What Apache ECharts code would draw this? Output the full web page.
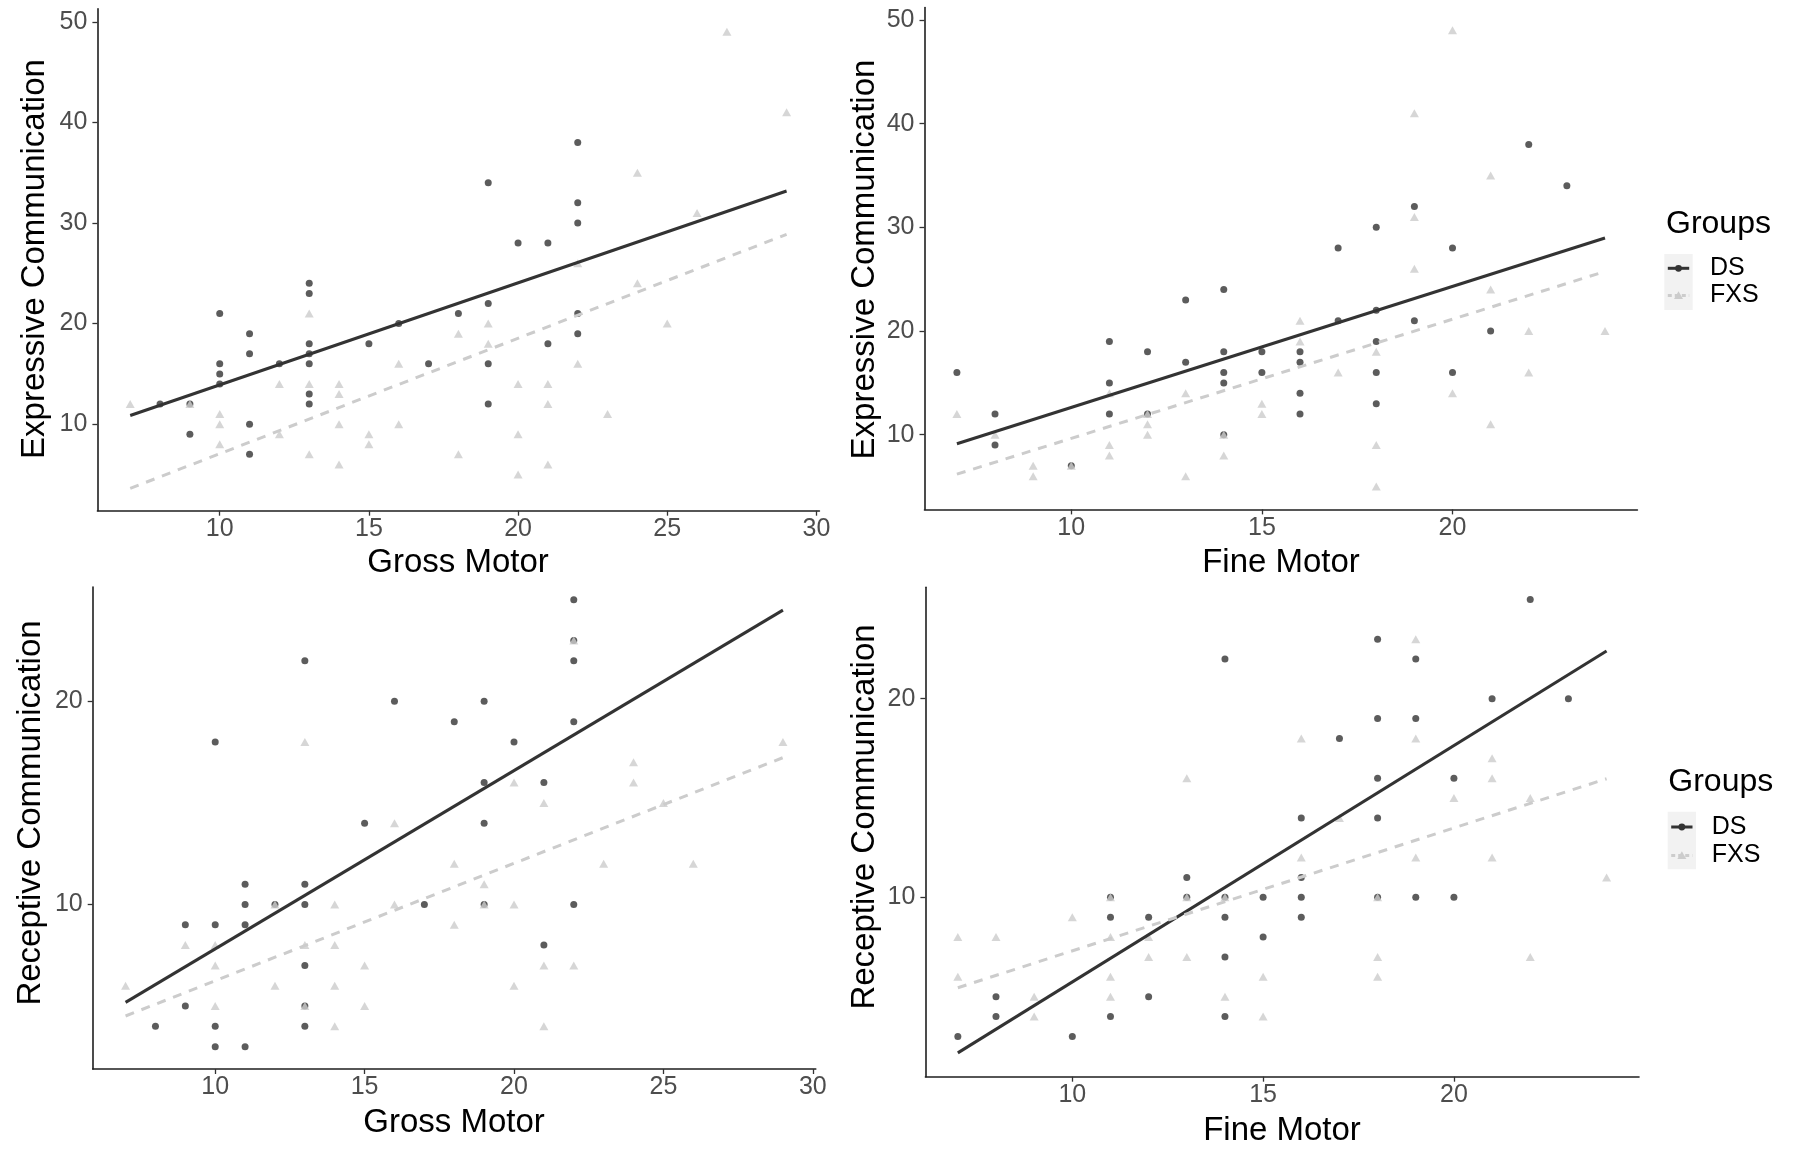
<!DOCTYPE html>
<html>
<head>
<meta charset="utf-8">
<script src="https://cdn.jsdelivr.net/npm/echarts@6/dist/echarts.min.js"></script>
<style>
html,body{margin:0;padding:0;background:#fff;}
#chart{width:1796px;height:1160px;}
</style>
</head>
<body>
<div id="chart"></div>
<script>
// ---------- DATA ----------
const groups = ['DS', 'FXS'];
const xTicksGross = [10, 15, 20, 25, 30];
const xTicksFine = [10, 15, 20];
const yTicksExpressive = [10, 20, 30, 40, 50];
const yTicksReceptive = [10, 20];

const xTitleGross = 'Gross Motor';
const xTitleFine = 'Fine Motor';
const yTitleExpressive = 'Expressive Communication';
const yTitleReceptive = 'Receptive Communication';
const legendTitle = 'Groups';

// Panel 1: Gross Motor vs Expressive Communication
const exprGrossDS = [[22,38],[19,34],[22,32],[22,30],[20,28],[21,28],[13,24],[13,23],[10,21],[19,22],[18,21],[22,21],[16,20],[11,19],[22,19],[13,18],[15,18],[21,18],[11,17],[13,17],[12,16],[10,16],[13,16],[17,16],[19,16],[10,15],[10,14],[13,13],[13,12],[19,12],[8,12],[9,12],[11,10],[9,9],[11,7]];
const exprGrossFXS = [[27,49],[29,41],[24,35],[26,31],[22,26],[24,24],[13,21],[19,20],[25,20],[18,19],[19,18],[16,16],[22,16],[12,14],[13,14],[14,14],[20,14],[21,14],[14,13],[7,12],[9,12],[21,12],[23,11],[10,11],[10,10],[14,10],[16,10],[12,9],[15,9],[20,9],[10,8],[15,8],[13,7],[18,7],[14,6],[21,6],[20,5]];
const exprGrossFitDS = [[7,10.86],[29,33.18]];
const exprGrossFitFXS = [[7,3.62],[29,28.87]];

// Panel 2: Fine Motor vs Expressive Communication
const exprFineDS = [[22,38],[23,34],[19,32],[18,30],[17,28],[20,28],[14,24],[13,23],[17,21],[18,22],[19,21],[21,20],[11,19],[18,19],[12,18],[14,18],[15,18],[16,18],[13,17],[16,17],[7,16],[14,16],[15,16],[18,16],[20,16],[11,15],[14,15],[16,14],[18,13],[8,12],[11,12],[12,12],[16,12],[14,10],[8,9],[10,7]];
const exprFineFXS = [[20,49],[19,41],[21,35],[19,31],[19,26],[21,24],[16,21],[16,19],[18,18],[22,20],[24,20],[22,16],[17,16],[13,14],[20,14],[11,14],[15,13],[15,12],[7,12],[12,12],[12,11],[21,11],[8,10],[12,10],[14,10],[11,9],[18,9],[11,8],[14,8],[9,7],[10,7],[9,6],[13,6],[18,5]];
const exprFineFitDS = [[7,9.13],[24,28.97]];
const exprFineFitFXS = [[7,6.2],[24,25.74]];

// Panel 3: Gross Motor vs Receptive Communication
const recGrossDS = [[22,25],[22,23],[13,22],[22,22],[16,20],[19,20],[18,19],[22,19],[10,18],[20,18],[19,16],[21,16],[15,14],[19,14],[11,11],[13,11],[11,10],[12,10],[13,10],[17,10],[19,10],[22,10],[9,9],[10,9],[11,9],[21,8],[13,7],[9,5],[13,5],[8,4],[10,4],[13,4],[10,3],[11,3]];
const recGrossFXS = [[22,23],[13,18],[29,18],[24,17],[24,16],[20,16],[21,15],[25,15],[16,14],[18,12],[23,12],[26,12],[19,11],[12,10],[14,10],[16,10],[19,10],[20,10],[18,9],[9,8],[10,8],[13,8],[14,8],[10,7],[15,7],[21,7],[22,7],[7,6],[12,6],[14,6],[20,6],[10,5],[13,5],[15,5],[14,4],[21,4]];
const recGrossFitDS = [[7,5.18],[29,24.49]];
const recGrossFitFXS = [[7,4.51],[29,17.23]];

// Panel 4: Fine Motor vs Receptive Communication
const recFineDS = [[22,25],[18,23],[14,22],[19,22],[21,20],[23,20],[18,19],[19,19],[17,18],[18,16],[20,16],[16,14],[18,14],[13,11],[16,11],[11,10],[13,10],[14,10],[15,10],[16,10],[18,10],[19,10],[20,10],[11,9],[12,9],[14,9],[16,9],[15,8],[14,7],[8,5],[12,5],[8,4],[11,4],[14,4],[7,3],[10,3]];
const recFineFXS = [[19,23],[16,18],[19,18],[21,17],[21,16],[13,16],[20,15],[22,15],[17,14],[16,12],[19,12],[21,12],[24,11],[11,10],[13,10],[14,10],[18,10],[10,9],[7,8],[8,8],[11,8],[12,8],[12,7],[13,7],[18,7],[22,7],[7,6],[11,6],[15,6],[18,6],[9,5],[11,5],[14,5],[9,4],[15,4]];
const recFineFitDS = [[7,2.17],[24,22.4]];
const recFineFitFXS = [[7,5.45],[24,15.97]];

// ---------- STYLE / LAYOUT ----------
const FONT = '"Liberation Sans", Arial, Helvetica, sans-serif';
const COL_DS = '#333333';
const COL_FXS = '#cccccc';
const TICK_FS = 25;
const TITLE_FS = 33;

const panels = [
  { grid:{left:97.4, top:8.7, width:722, height:502}, xr:[5.9,30.1], yr:[1.4,51.3], xt:xTicksGross, yt:yTicksExpressive,
    ds:exprGrossDS, fxs:exprGrossFXS, fitDS:exprGrossFitDS, fitFXS:exprGrossFitFXS },
  { grid:{left:924.5, top:7.5, width:712.9, height:501.9}, xr:[6.15,24.85], yr:[2.8,51.2], xt:xTicksFine, yt:yTicksExpressive,
    ds:exprFineDS, fxs:exprFineFXS, fitDS:exprFineFitDS, fitFXS:exprFineFitFXS },
  { grid:{left:92.7, top:587, width:723.1, height:482}, xr:[5.9,30.1], yr:[1.9,25.63], xt:xTicksGross, yt:yTicksReceptive,
    ds:recGrossDS, fxs:recGrossFXS, fitDS:recGrossFitDS, fitFXS:recGrossFitFXS },
  { grid:{left:925.4, top:587.3, width:713.6, height:489.4}, xr:[6.15,24.85], yr:[0.97,25.61], xt:xTicksFine, yt:yTicksReceptive,
    ds:recFineDS, fxs:recFineFXS, fitDS:recFineFitDS, fitFXS:recFineFitFXS }
];

const grids = [], xAxes = [], yAxes = [], series = [];
panels.forEach((p, i) => {
  grids.push(Object.assign({containLabel:false, outerBoundsMode:'none'}, p.grid));
  const axisCommon = {
    type:'value', gridIndex:i,
    axisLine:{show:true, onZero:false, lineStyle:{color:'#1f1f1f', width:1.6}},
    splitLine:{show:false},
  };
  xAxes.push(Object.assign({}, axisCommon, {
    min:p.xr[0], max:p.xr[1],
    axisTick:{show:true, inside:false, length:5, customValues:p.xt, lineStyle:{color:'#333333', width:1.3}},
    axisLabel:{show:true, customValues:p.xt, margin:6, fontSize:TICK_FS, color:'#4d4d4d', fontFamily:FONT}
  }));
  yAxes.push(Object.assign({}, axisCommon, {
    min:p.yr[0], max:p.yr[1],
    axisTick:{show:true, inside:false, length:5, customValues:p.yt, lineStyle:{color:'#333333', width:1.3}},
    axisLabel:{show:true, customValues:p.yt, margin:10, fontSize:TICK_FS, color:'#4d4d4d', fontFamily:FONT}
  }));
  series.push({
    name:groups[0], type:'scatter', xAxisIndex:i, yAxisIndex:i, data:p.ds,
    symbol:'circle', symbolSize:7, itemStyle:{color:COL_DS}, z:2, silent:true
  });
  series.push({
    name:groups[1], type:'scatter', xAxisIndex:i, yAxisIndex:i, data:p.fxs,
    symbol:'triangle', symbolSize:[9,8], itemStyle:{color:COL_FXS}, z:3, silent:true
  });
  series.push({
    name:groups[0], type:'line', xAxisIndex:i, yAxisIndex:i, data:p.fitDS,
    showSymbol:false, symbol:'none', lineStyle:{color:COL_DS, width:3}, z:4, silent:true
  });
  series.push({
    name:groups[1], type:'line', xAxisIndex:i, yAxisIndex:i, data:p.fitFXS,
    showSymbol:false, symbol:'none', lineStyle:{color:COL_FXS, width:3, type:[9,8]}, z:5, silent:true
  });
});

function txt(text, x, y, size, opts) {
  return Object.assign({
    type:'text', x:x, y:y, silent:true,
    style:{text:text, fontSize:size, fontFamily:FONT, fill:'#000000',
           textAlign:'center', textVerticalAlign:'middle'}
  }, opts || {});
}
function rotTxt(text, x, y, size) {
  const t = txt(text, x, y, size);
  t.rotation = Math.PI / 2;
  return t;
}
function legendBlock(left, titleY, rectX, rectY, rectW, rectH, yDS, yFXS, labelX) {
  const cx = rectX + rectW / 2;
  const x1 = rectX + 3.5, x2 = rectX + rectW - 3.5;
  const t = txt(legendTitle, left, titleY, 32);
  t.style.textAlign = 'left';
  const lDS = txt(groups[0], labelX, yDS, 25); lDS.style.textAlign = 'left';
  const lFXS = txt(groups[1], labelX, yFXS, 25); lFXS.style.textAlign = 'left';
  return [
    t,
    {type:'rect', silent:true, shape:{x:rectX, y:rectY, width:rectW, height:rectH}, style:{fill:'#f2f2f2'}},
    {type:'line', silent:true, shape:{x1:x1, y1:yDS, x2:x2, y2:yDS}, style:{stroke:COL_DS, lineWidth:3}},
    {type:'circle', silent:true, shape:{cx:cx, cy:yDS, r:3.4}, style:{fill:COL_DS}},
    {type:'line', silent:true, shape:{x1:x1, y1:yFXS, x2:x2, y2:yFXS}, style:{stroke:COL_FXS, lineWidth:3, lineDash:[4,3]}},
    {type:'polygon', silent:true, shape:{points:[[cx, yFXS-4.2],[cx+4.5, yFXS+3.6],[cx-4.5, yFXS+3.6]]}, style:{fill:COL_FXS}},
    lDS, lFXS
  ];
}

const graphics = [
  rotTxt(yTitleExpressive, 35, 259, TITLE_FS),
  rotTxt(yTitleExpressive, 865, 259.5, TITLE_FS),
  rotTxt(yTitleReceptive, 30.5, 813, TITLE_FS),
  rotTxt(yTitleReceptive, 865, 817, TITLE_FS),
  txt(xTitleGross, 458, 562.5, TITLE_FS),
  txt(xTitleFine, 1281, 562.5, TITLE_FS),
  txt(xTitleGross, 454, 1123, TITLE_FS),
  txt(xTitleFine, 1282, 1131, TITLE_FS)
].concat(
  legendBlock(1666, 224, 1664.3, 254, 28.4, 56, 268.3, 295.5, 1710),
  legendBlock(1668.3, 782, 1667.7, 811.7, 28.3, 57.6, 827, 855.5, 1711.7)
);

const chart = echarts.init(document.getElementById('chart'), null, {renderer:'canvas'});
chart.setOption({
  animation:false,
  backgroundColor:'#ffffff',
  textStyle:{fontFamily:FONT},
  grid:grids,
  xAxis:xAxes,
  yAxis:yAxes,
  series:series,
  graphic:{elements:graphics}
});
</script>
</body>
</html>
